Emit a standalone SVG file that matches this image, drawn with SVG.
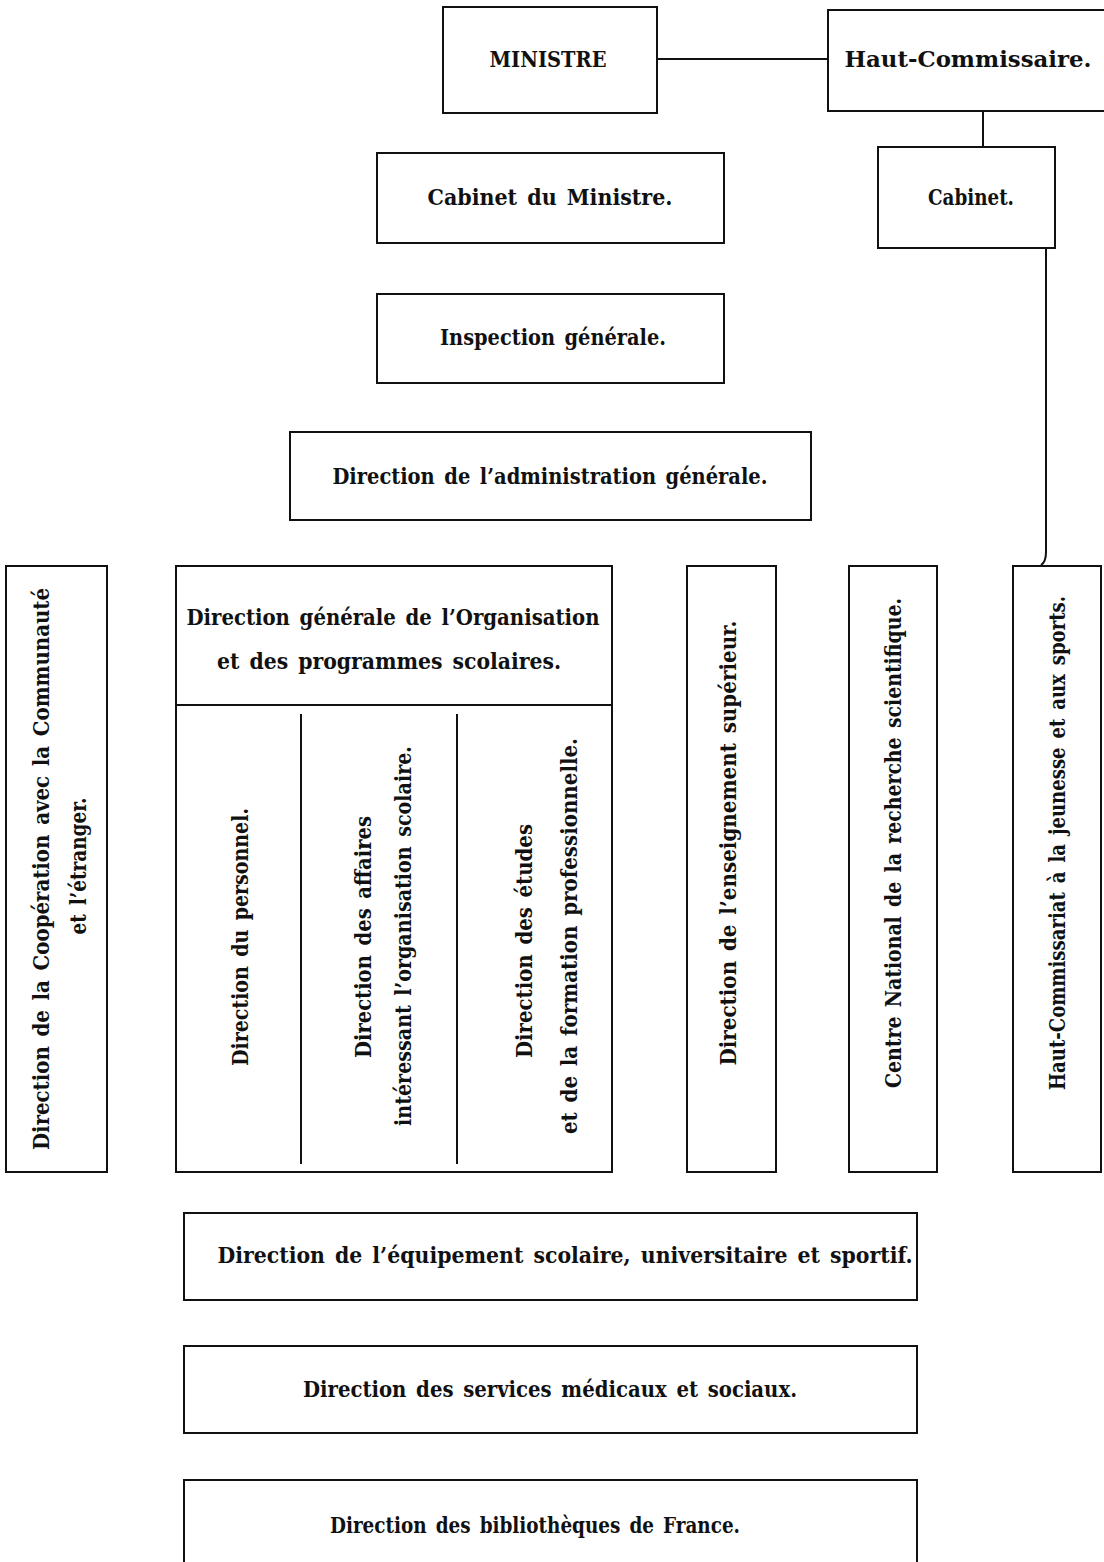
<svg xmlns="http://www.w3.org/2000/svg" width="1104" height="1562" viewBox="0 0 1104 1562">
<style>
.b{fill:#fff;stroke:#111;stroke-width:2}
.t{font-family:"DejaVu Serif Condensed","DejaVu Serif","Liberation Serif",serif;font-stretch:condensed;font-weight:bold;font-size:23px;word-spacing:3px;fill:#111;text-anchor:middle}
.c{stroke:#111;stroke-width:2;fill:none}
</style>
<rect width="1104" height="1562" fill="#fff"/>
<g id="connectors">
<line class="c" x1="657" y1="59" x2="828" y2="59"/>
<line class="c" x1="983" y1="111" x2="983" y2="147"/>
<path class="c" d="M1046 248 L1046 552 Q1046 562 1041 565"/>
</g>
<g id="ministre"><rect class="b" x="443" y="7" width="214" height="106"/><text class="t" x="548" y="67" textLength="117" lengthAdjust="spacingAndGlyphs">MINISTRE</text></g>
<g id="haut-commissaire"><rect class="b" x="828" y="10" width="290" height="101"/><text class="t" x="968" y="67" textLength="247" lengthAdjust="spacingAndGlyphs">Haut-Commissaire.</text></g>
<g id="cabinet-ministre"><rect class="b" x="377" y="153" width="347" height="90"/><text class="t" x="550" y="205" textLength="245" lengthAdjust="spacingAndGlyphs">Cabinet du Ministre.</text></g>
<g id="cabinet"><rect class="b" x="878" y="147" width="177" height="101"/><text class="t" x="971" y="205" textLength="86" lengthAdjust="spacingAndGlyphs">Cabinet.</text></g>
<g id="inspection"><rect class="b" x="377" y="294" width="347" height="89"/><text class="t" x="553" y="345" textLength="226" lengthAdjust="spacingAndGlyphs">Inspection générale.</text></g>
<g id="admin"><rect class="b" x="290" y="432" width="521" height="88"/><text class="t" x="550" y="484" textLength="435" lengthAdjust="spacingAndGlyphs">Direction de l’administration générale.</text></g>
<g id="cooperation"><rect class="b" x="6" y="566" width="101" height="606"/>
<text class="t" transform="translate(41,869) rotate(-90)" x="0" y="8" textLength="562" lengthAdjust="spacingAndGlyphs">Direction de la Coopération avec la Communauté</text>
<text class="t" transform="translate(78,866) rotate(-90)" x="0" y="8" textLength="137" lengthAdjust="spacingAndGlyphs">et l’étranger.</text></g>
<g id="organisation"><rect class="b" x="176" y="566" width="436" height="606"/>
<line class="c" x1="176" y1="705" x2="612" y2="705"/>
<text class="t" x="393" y="625" textLength="413" lengthAdjust="spacingAndGlyphs">Direction générale de l’Organisation</text>
<text class="t" x="389" y="669" textLength="344" lengthAdjust="spacingAndGlyphs">et des programmes scolaires.</text></g>
<g id="personnel"><text class="t" transform="translate(240,937) rotate(-90)" x="0" y="8" textLength="258" lengthAdjust="spacingAndGlyphs">Direction du personnel.</text></g>
<line class="c" x1="301" y1="714" x2="301" y2="1164"/>
<g id="affaires"><text class="t" transform="translate(363,937) rotate(-90)" x="0" y="8" textLength="242" lengthAdjust="spacingAndGlyphs">Direction des affaires</text>
<text class="t" transform="translate(403,936) rotate(-90)" x="0" y="8" textLength="380" lengthAdjust="spacingAndGlyphs">intéressant l’organisation scolaire.</text></g>
<line class="c" x1="457" y1="714" x2="457" y2="1164"/>
<g id="etudes"><text class="t" transform="translate(524,941) rotate(-90)" x="0" y="8" textLength="234" lengthAdjust="spacingAndGlyphs">Direction des études</text>
<text class="t" transform="translate(569,936) rotate(-90)" x="0" y="8" textLength="396" lengthAdjust="spacingAndGlyphs">et de la formation professionnelle.</text></g>
<g id="enseignement"><rect class="b" x="687" y="566" width="89" height="606"/>
<text class="t" transform="translate(728,843) rotate(-90)" x="0" y="8" textLength="445" lengthAdjust="spacingAndGlyphs">Direction de l’enseignement supérieur.</text></g>
<g id="cnrs"><rect class="b" x="849" y="566" width="88" height="606"/>
<text class="t" transform="translate(893,843) rotate(-90)" x="0" y="8" textLength="490" lengthAdjust="spacingAndGlyphs">Centre National de la recherche scientifique.</text></g>
<g id="hc-jeunesse"><rect class="b" x="1013" y="566" width="88" height="606"/>
<text class="t" transform="translate(1057,843) rotate(-90)" x="0" y="8" textLength="494" lengthAdjust="spacingAndGlyphs">Haut-Commissariat à la jeunesse et aux sports.</text></g>
<g id="equipement"><rect class="b" x="184" y="1213" width="733" height="87"/><text class="t" x="565" y="1263" textLength="695" lengthAdjust="spacingAndGlyphs">Direction de l’équipement scolaire, universitaire et sportif.</text></g>
<g id="medicaux"><rect class="b" x="184" y="1346" width="733" height="87"/><text class="t" x="550" y="1397" textLength="494" lengthAdjust="spacingAndGlyphs">Direction des services médicaux et sociaux.</text></g>
<g id="bibliotheques"><rect class="b" x="184" y="1480" width="733" height="100"/><text class="t" x="535" y="1533" textLength="410" lengthAdjust="spacingAndGlyphs">Direction des bibliothèques de France.</text></g>
</svg>
